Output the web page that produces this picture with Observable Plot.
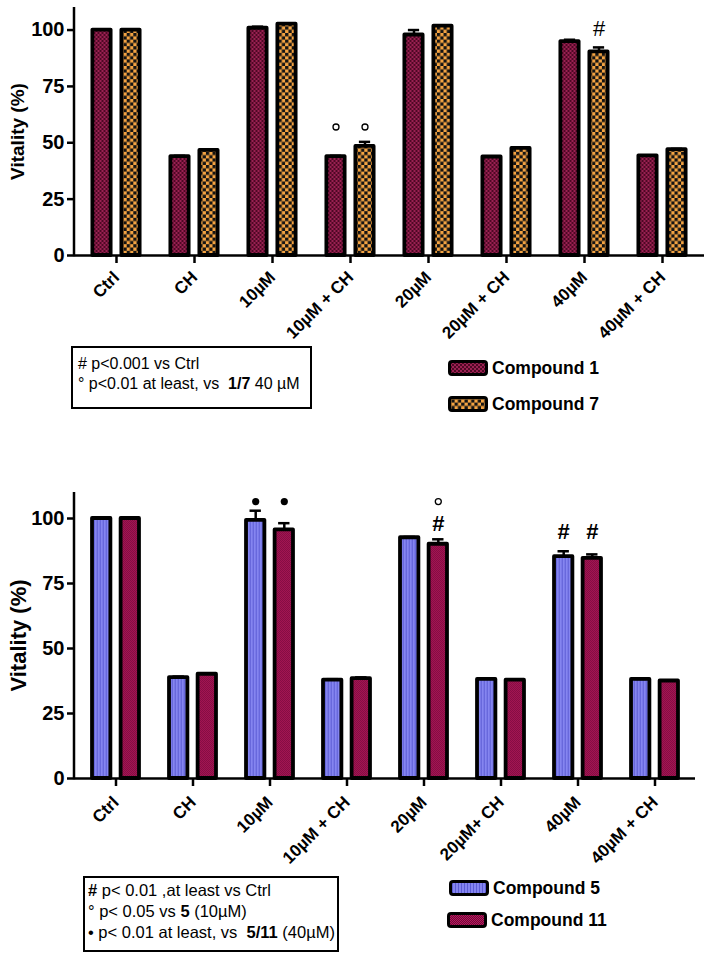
<!DOCTYPE html>
<html><head><meta charset="utf-8">
<script src="https://cdn.jsdelivr.net/npm/d3@7"></script>
<script src="https://cdn.jsdelivr.net/npm/@observablehq/plot@0.6"></script>
<style>
body{margin:0;background:#fff;font-family:"Liberation Sans",Arial,sans-serif;color:#000;}
#root{position:relative;width:710px;height:959px;overflow:hidden;background:#fff;}
.panel{position:absolute;left:0;}
.note{position:absolute;border:2.5px solid #000;box-sizing:border-box;background:#fff;white-space:nowrap;}
.leg{position:absolute;display:flex;align-items:center;gap:4px;font-weight:bold;white-space:nowrap;}
.leg svg{display:block;}
</style>
</head><body>
<svg width="0" height="0" style="position:absolute">
<defs>
<pattern id="pC1" width="4" height="4" patternUnits="userSpaceOnUse">
 <rect width="4" height="4" fill="#9a2152"/>
 <rect width="2" height="2" fill="#4e0824"/>
 <rect x="2" y="2" width="2" height="2" fill="#4e0824"/>
</pattern>
<pattern id="pC7" width="6.6" height="6.6" patternUnits="userSpaceOnUse">
 <rect width="6.6" height="6.6" fill="#f5a442"/>
 <rect width="3.3" height="3.3" fill="#141414"/>
 <rect x="3.3" y="3.3" width="3.3" height="3.3" fill="#141414"/>
</pattern>
<pattern id="pC5" width="3" height="3" patternUnits="userSpaceOnUse">
 <rect width="3" height="3" fill="#8585f0"/>
 <rect width="1" height="3" fill="#5c5cd4"/>
</pattern>
<pattern id="pC11" width="2" height="2" patternUnits="userSpaceOnUse">
 <rect width="2" height="2" fill="#b81a5c"/>
 <rect width="1" height="1" fill="#70083a"/>
 <rect x="1" y="1" width="1" height="1" fill="#70083a"/>
</pattern>
</defs></svg>
<div id="root"></div>
<script>
// ---------- DATA ----------
const categoriesTop = ["Ctrl","CH","10µM","10µM + CH","20µM","20µM + CH","40µM","40µM + CH"];
const compound1 = [100, 43.9, 100.8, 43.9, 97.8, 43.7, 94.9, 44.2];
const compound1Err = [0, 0.3, 0.7, 0.3, 2.2, 0.3, 0.8, 0.2];
const compound7 = [100, 46.6, 102.6, 48.4, 101.7, 47.5, 90.3, 47.0];
const compound7Err = [0, 0.3, 0.4, 2.0, 0.3, 0.4, 2.0, 0.3];
const annotTop = [
  {cat:"10µM + CH", s:0, sym:"°", y:57},
  {cat:"10µM + CH", s:1, sym:"°", y:57},
  {cat:"40µM", s:1, sym:"#", y:100.7}
];
const seriesTop = ["Compound 1","Compound 7"];
const notesTop = [
  '# p&lt;0.001 vs Ctrl',
  '° p&lt;0.01 at least, vs&nbsp; <b>1/7</b> 40 µM'
];

const categoriesBottom = ["Ctrl","CH","10µM","10µM + CH","20µM","20µM+ CH","40µM","40µM + CH"];
const compound5 = [100, 38.8, 99.3, 37.8, 92.6, 38.1, 85.3, 38.1];
const compound5Err = [0, 0.4, 3.7, 0.4, 0.3, 0.3, 2.1, 0.2];
const compound11 = [100, 40.1, 95.6, 38.4, 90.1, 37.8, 84.7, 37.5];
const compound11Err = [0, 0.3, 2.6, 0.5, 1.9, 0.3, 1.5, 0.3];
const annotBottom = [
  {cat:"10µM", s:0, sym:"•", y:106.5},
  {cat:"10µM", s:1, sym:"•", y:106.5},
  {cat:"20µM", s:1, sym:"°", y:106.5},
  {cat:"20µM", s:1, sym:"#", y:97.8},
  {cat:"40µM", s:0, sym:"#", y:95},
  {cat:"40µM", s:1, sym:"#", y:95}
];
const seriesBottom = ["Compound 5","Compound 11"];
const notesBottom = [
  '<b>#</b> p&lt; 0.01 ,at least vs Ctrl',
  '° p&lt; 0.05 vs <b>5</b> (10µM)',
  '• p&lt; 0.01 at least, vs&nbsp; <b>5/11</b> (40µM)'
];
const yTicks = [0,25,50,75,100];

// ---------- DRAW ----------
const FONT = "'Liberation Sans', Arial, sans-serif";
const root = document.getElementById("root");

function panel(cfg) {
  const W = 710, ml = 74;
  const n = cfg.cats.length;
  const band = (W - ml - cfg.mr) / n;
  const barW = 19, capW = 12;
  const inset = (band - barW) / 2, capInset = (band - capW) / 2;
  const series = [
    {vals: cfg.s0, errs: cfg.e0, dx: -cfg.off, fill: cfg.pats[0], s: 0},
    {vals: cfg.s1, errs: cfg.e1, dx: cfg.off, fill: cfg.pats[1], s: 1}
  ];
  const marks = [];
  for (const S of series) {
    const rows = cfg.cats.map((c, i) => ({c, v: S.vals[i], e: S.errs[i]}));
    const er = rows.filter(d => d.e > 0);
    marks.push(Plot.barY(rows, {x: "c", y: "v", dx: S.dx, fill: S.fill, stroke: "#000", strokeWidth: 3.8,
      strokeLinejoin: "round", insetLeft: inset, insetRight: inset}));
    marks.push(Plot.ruleX(er, {x: "c", y1: "v", y2: d => d.v + d.e, dx: S.dx, strokeWidth: 2.5}));
    marks.push(Plot.tickY(er, {x: "c", y: d => d.v + d.e, dx: S.dx, strokeWidth: 2.5,
      insetLeft: capInset, insetRight: capInset}));
    const a = cfg.ann.filter(d => d.s === S.s);
    marks.push(Plot.text(a.filter(d => d.sym === "#"), {x: "cat", y: "y", text: "sym", dx: S.dx,
      fontSize: 22, fontWeight: cfg.hashWeight, lineAnchor: "middle", fill: "#000"}));
    marks.push(Plot.dot(a.filter(d => d.sym === "°"), {x: "cat", y: "y", dx: S.dx, r: 3, stroke: "#000", strokeWidth: 1.3, fill: "none"}));
    marks.push(Plot.dot(a.filter(d => d.sym === "•"), {x: "cat", y: "y", dx: S.dx, r: 3.6, fill: "#000", stroke: "none"}));
  }
  marks.push(Plot.ruleY([0], {strokeWidth: 2.5}));
  marks.push((index, scales, values, dims) => {
    const l = document.createElementNS("http://www.w3.org/2000/svg", "line");
    l.setAttribute("x1", dims.marginLeft); l.setAttribute("x2", dims.marginLeft);
    l.setAttribute("y1", scales.y(0) + 1.25); l.setAttribute("y2", scales.y(110));
    l.setAttribute("stroke", "#000"); l.setAttribute("stroke-width", 2.5);
    return l;
  });
  marks.push(Plot.axisY({ticks: yTicks, tickSize: 7, tickPadding: 3, fontSize: 20, fontWeight: "bold",
    strokeWidth: 2.5, label: null}));
  marks.push(Plot.axisX({tickSize: 8, tickPadding: cfg.xPad, tickRotate: -45, fontSize: 17, fontWeight: "bold",
    strokeWidth: 2.5, label: null}));
  marks.push(Plot.text(["Vitality (%)"], {text: d => d, frameAnchor: "left", textAnchor: "middle", rotate: -90,
    dx: cfg.titleDx, fontSize: cfg.titleSize, fontWeight: "bold", fill: "#000"}));

  const svg = Plot.plot({
    width: W, height: cfg.height,
    marginLeft: ml, marginRight: cfg.mr, marginTop: cfg.mt, marginBottom: cfg.mb,
    x: {type: "band", domain: cfg.cats, padding: 0, label: null},
    y: {domain: [0, 110], label: null},
    style: {fontFamily: FONT, background: "transparent", overflow: "visible", color: "#000"},
    marks
  });
  const wrap = document.createElement("div");
  wrap.className = "panel";
  wrap.style.top = cfg.top + "px";
  wrap.appendChild(svg);
  root.appendChild(wrap);
}

panel({cats: categoriesTop, s0: compound1, e0: compound1Err, s1: compound7, e1: compound7Err,
  pats: ["url(#pC1)", "url(#pC7)"], ann: annotTop, top: 0, height: 345, mt: 7, mb: 90, mr: 6,
  off: 14.5, titleSize: 19, titleDx: -57, hashWeight: "normal", xPad: 11});
panel({cats: categoriesBottom, s0: compound5, e0: compound5Err, s1: compound11, e1: compound11Err,
  pats: ["url(#pC5)", "url(#pC11)"], ann: annotBottom, top: 480, height: 400, mt: 12, mb: 102, mr: 15,
  off: 14.3, titleSize: 22, titleDx: -55.5, hashWeight: "bold", xPad: 13});

function note(lines, box) {
  const d = document.createElement("div");
  d.className = "note";
  Object.assign(d.style, {left: box.left + "px", top: box.top + "px", width: box.w + "px", height: box.h + "px",
    padding: box.pad, fontSize: box.fs + "px", lineHeight: box.lh + "px"});
  d.innerHTML = lines.map(t => "<div>" + t + "</div>").join("");
  root.appendChild(d);
}
note(notesTop, {left: 71, top: 346, w: 241, h: 63, pad: "6px 0 0 5px", fs: 16, lh: 20});
note(notesBottom, {left: 83, top: 876, w: 256, h: 76, pad: "2px 0 0 3px", fs: 16.5, lh: 21});

function legend(names, pats, items) {
  names.forEach((name, i) => {
    const it = items[i];
    const d = document.createElement("div");
    d.className = "leg";
    Object.assign(d.style, {left: it.left + "px", top: it.top + "px", fontSize: "17.5px", lineHeight: "16px"});
    d.innerHTML = '<svg width="40" height="16"><rect x="1.5" y="1.5" width="37" height="13" rx="2.5" fill="' +
      pats[i] + '" stroke="#000" stroke-width="3"/></svg><span>' + name + '</span>';
    root.appendChild(d);
  });
}
legend(seriesTop, ["url(#pC1)", "url(#pC7)"], [{left: 448, top: 360}, {left: 448, top: 396}]);
legend(seriesBottom, ["url(#pC5)", "url(#pC11)"], [{left: 449, top: 880}, {left: 447, top: 912}]);
</script>
</body></html>
